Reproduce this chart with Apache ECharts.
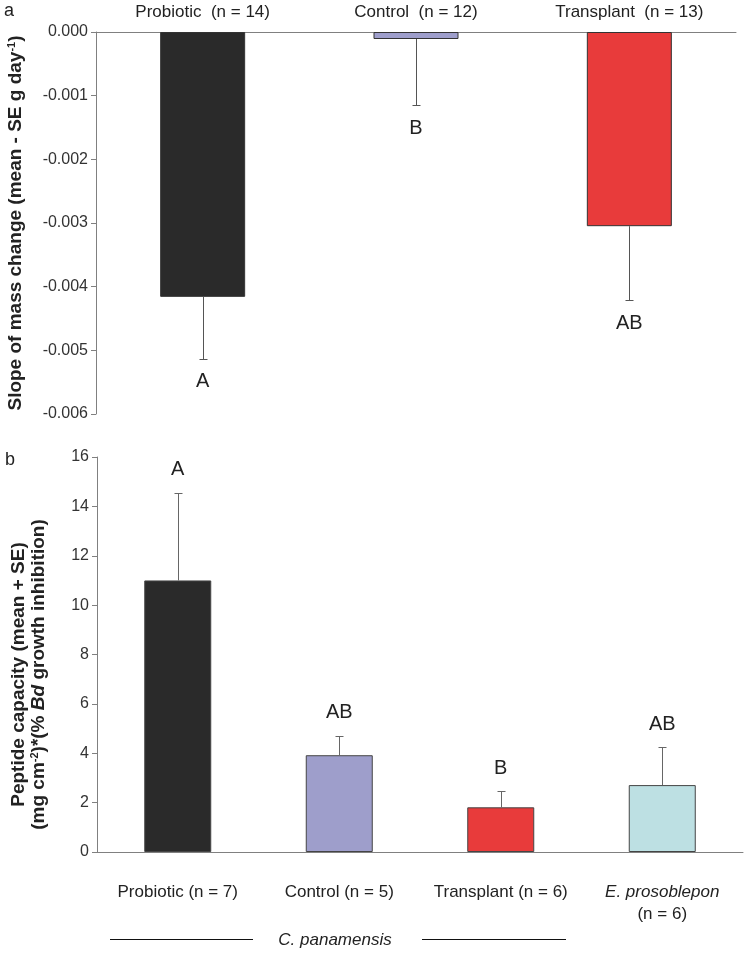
<!DOCTYPE html>
<html>
<head>
<meta charset="utf-8">
<script src="https://cdn.jsdelivr.net/npm/echarts@6/dist/echarts.min.js"></script>
<style>
html,body{margin:0;padding:0;background:#fff;}
#c{width:747px;height:954px;}
</style>
</head>
<body>
<div id="c"></div>
<script>
// Panel a data
const catsA = ['Probiotic  (n = 14)', 'Control  (n = 12)', 'Transplant  (n = 13)'];
const meanA = [-0.00416, -0.00011, -0.00305];
const errEndA = [-0.00513, -0.00115, -0.00421];
const lettersA = ['A', 'B', 'AB'];
const ticksA = { min: -0.006, max: 0, interval: 0.001 };

// Panel b data
const catsB = ['Probiotic (n = 7)', 'Control (n = 5)', 'Transplant (n = 6)', 'E. prosoblepon\n(n = 6)'];
const meanB = [11.0, 3.92, 1.81, 2.71];
const errEndB = [14.56, 4.70, 2.46, 4.25];
const lettersB = ['A', 'AB', 'B', 'AB'];
const ticksB = { min: 0, max: 16, interval: 2 };

const colorsA = ['#2a2a2a', '#9e9ecb', '#e83b3b'];
const colorsB = ['#2a2a2a', '#9e9ecb', '#e83b3b', '#bde0e3'];

const FONT = '"Liberation Sans", Arial, Helvetica, sans-serif';
const AXIS = '#808080';

const chart = echarts.init(document.getElementById('c'), null, { renderer: 'canvas' });

function errSeries(xi, yi, means, ends, letters, dir, color) {
  return {
    type: 'custom',
    xAxisIndex: xi, yAxisIndex: yi,
    z: 5,
    data: means.map((m, i) => [i, m, ends[i]]),
    renderItem: function (params, api) {
      const i = api.value(0);
      const p0 = api.coord([i, api.value(1)]);
      const p1 = api.coord([i, api.value(2)]);
      const x = Math.round(p0[0]) + 0.5;
      const ye = Math.round(p1[1]) + 0.5;
      const st = { stroke: color, lineWidth: 1 };
      return {
        type: 'group',
        children: [
          { type: 'line', shape: { x1: x, y1: p0[1], x2: x, y2: ye }, style: st },
          { type: 'line', shape: { x1: x - 4, y1: ye, x2: x + 4, y2: ye }, style: st },
          { type: 'text', x: p1[0], y: p1[1] + dir * 23,
            style: { text: letters[params.dataIndex], font: '20px ' + FONT, fill: '#222', align: 'center', verticalAlign: 'middle' } }
        ]
      };
    }
  };
}

const option = {
  animation: false,
  backgroundColor: '#fff',
  grid: [
    { left: 96, top: 32, width: 640, height: 382, outerBoundsMode: 'none' },
    { left: 97, top: 457, width: 646, height: 395, outerBoundsMode: 'none' }
  ],
  xAxis: [
    {
      gridIndex: 0, type: 'category', data: catsA, position: 'top',
      axisLine: { show: true, onZero: false, lineStyle: { color: AXIS, width: 1 } },
      axisTick: { show: false },
      axisLabel: { color: '#222', fontSize: 17, fontFamily: FONT, margin: 11, interval: 0 }
    },
    {
      gridIndex: 1, type: 'category', data: catsB, position: 'bottom',
      axisLine: { show: true, lineStyle: { color: AXIS, width: 1 } },
      axisTick: { show: false },
      axisLabel: {
        color: '#222', fontSize: 17, fontFamily: FONT, margin: 29, interval: 0, lineHeight: 22,
        formatter: function (v) {
          const parts = v.split('\n');
          if (parts.length > 1) return '{i|' + parts[0] + '}\n' + parts[1];
          return v;
        },
        rich: { i: { fontStyle: 'italic', fontSize: 17, fontFamily: FONT, color: '#222', lineHeight: 22 } }
      }
    }
  ],
  yAxis: [
    {
      gridIndex: 0, type: 'value', min: ticksA.min, max: ticksA.max, interval: ticksA.interval,
      axisLine: { show: true, lineStyle: { color: AXIS } },
      axisTick: { show: true, length: 5, lineStyle: { color: AXIS } },
      splitLine: { show: false },
      axisLabel: { color: '#333', fontSize: 16, fontFamily: FONT, margin: 8, formatter: v => (Math.abs(v) < 1e-9 ? 0 : v).toFixed(3) },
      name: '{b|Slope of mass change (mean - SE g day}{sup|-1}{b|)}',
      nameLocation: 'middle', nameRotate: 90, nameGap: 70,
      nameTextStyle: {
        rich: {
          b: { fontWeight: 'bold', fontSize: 19, fontFamily: FONT, color: '#222', lineHeight: 20 },
          sup: { fontWeight: 'bold', fontSize: 11, fontFamily: FONT, color: '#222', verticalAlign: 'top', lineHeight: 20 }
        }
      }
    },
    {
      gridIndex: 1, type: 'value', min: ticksB.min, max: ticksB.max, interval: ticksB.interval,
      axisLine: { show: true, lineStyle: { color: AXIS } },
      axisTick: { show: true, length: 5, lineStyle: { color: AXIS } },
      splitLine: { show: false },
      axisLabel: { color: '#333', fontSize: 16, fontFamily: FONT, margin: 8 },
      name: '{b|Peptide capacity (mean + SE)}\n{b|(mg cm}{sup|-2}{b|)*(% }{bi|Bd}{b| growth inhibition)}',
      nameLocation: 'middle', nameRotate: 90, nameGap: 48,
      nameTextStyle: {
        lineHeight: 20,
        padding: [0, 40, 0, 0],
        rich: {
          b: { fontWeight: 'bold', fontSize: 19, fontFamily: FONT, color: '#222', lineHeight: 20 },
          bi: { fontWeight: 'bold', fontStyle: 'italic', fontSize: 19, fontFamily: FONT, color: '#222', lineHeight: 20 },
          sup: { fontWeight: 'bold', fontSize: 11, fontFamily: FONT, color: '#222', verticalAlign: 'top', lineHeight: 20 }
        }
      }
    }
  ],
  series: [
    {
      type: 'bar', xAxisIndex: 0, yAxisIndex: 0, barWidth: 85,
      data: meanA.map((v, i) => ({ value: v, itemStyle: { color: colorsA[i], borderColor: '#333', borderWidth: 1 } }))
    },
    errSeries(0, 0, meanA, errEndA, lettersA, 1, '#555'),
    {
      type: 'bar', xAxisIndex: 1, yAxisIndex: 1, barWidth: 67,
      data: meanB.map((v, i) => ({ value: v, itemStyle: { color: colorsB[i], borderColor: '#444', borderWidth: 1 } }))
    },
    errSeries(1, 1, meanB, errEndB, lettersB, -1, '#666')
  ],
  graphic: [
    { type: 'text', left: 4, top: 2, style: { text: 'a', font: '18px ' + FONT, fill: '#222' } },
    { type: 'text', left: 5, top: 451, style: { text: 'b', font: '18px ' + FONT, fill: '#222' } },
    { type: 'line', shape: { x1: 110, y1: 939.5, x2: 253, y2: 939.5 }, style: { stroke: '#111', lineWidth: 1 } },
    { type: 'line', shape: { x1: 422, y1: 939.5, x2: 566, y2: 939.5 }, style: { stroke: '#111', lineWidth: 1 } },
    { type: 'text', x: 335, y: 940, style: { text: 'C. panamensis', font: 'italic 17px ' + FONT, fill: '#222', align: 'center', verticalAlign: 'middle' } }
  ]
};
chart.setOption(option);
</script>
</body>
</html>
